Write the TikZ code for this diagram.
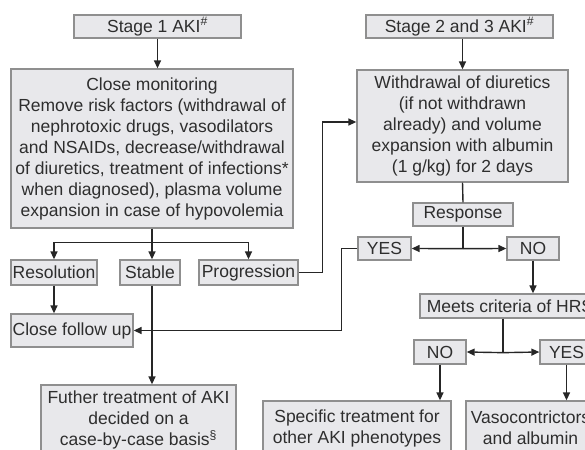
\documentclass[tikz,border=0pt]{standalone}
\usepackage{fontspec}
\setmainfont{Liberation Sans}
\usetikzlibrary{arrows.meta}
\definecolor{boxfill}{rgb}{0.91,0.91,0.92}
\definecolor{boxline}{rgb}{0.56,0.56,0.56}
\definecolor{textgray}{rgb}{0.18,0.18,0.18}

\tikzset{
  stepbox/.style={draw=boxline, fill=boxfill, line width=1.3pt, inner sep=0pt,
    align=center, text=textgray, font=\fontsize{17.5}{21}\selectfont},
  link/.style={line width=1.4pt, draw=black!85},
}

\begin{document}
\begin{tikzpicture}[x=1pt, y=-1pt, >={Triangle[length=8pt,width=7pt]}]
\useasboundingbox (0,0) rectangle (585,449);
\clip (0,0) rectangle (585,449);

\node[stepbox, minimum width=167pt, minimum height=23pt] (stageone) at (157.5,26.5) {Stage 1 AKI\textsuperscript{\#}};
\node[stepbox, minimum width=282pt, minimum height=159pt] (monitor) at (152,148.5)
  {Close monitoring\\Remove risk factors (withdrawal of\\nephrotoxic drugs, vasodilators\\and NSAIDs, decrease/withdrawal\\of diuretics, treatment of infections*\\when diagnosed), plasma volume\\expansion in case of hypovolemia};
\node[stepbox, minimum width=86pt, minimum height=25pt] (resolution) at (54,272.5) {Resolution};
\node[stepbox, minimum width=60pt, minimum height=25pt] (stable) at (150,272.5) {Stable};
\node[stepbox, minimum width=99pt, minimum height=25pt] (progression) at (248.5,272.5) {Progression};
\node[stepbox, minimum width=122pt, minimum height=33pt] (followup) at (72,330.5) {Close follow up};
\node[stepbox, minimum width=195pt, minimum height=70pt] (further) at (138.5,420)
  {Futher treatment of AKI\\decided on a\\case-by-case basis\textsuperscript{§}};

\node[stepbox, minimum width=187pt, minimum height=23pt] (stagetwo) at (459.5,26.5) {Stage 2 and 3 AKI\textsuperscript{\#}};
\node[stepbox, minimum width=211pt, minimum height=112pt] (withdrawal) at (462.5,126)
  {Withdrawal of diuretics\\(if not withdrawn\\already) and volume\\expansion with albumin\\(1 g/kg) for 2 days};
\node[stepbox, minimum width=100pt, minimum height=23pt] (response) at (463,214.5) {Response};
\node[stepbox, minimum width=53pt, minimum height=23pt] (yesone) at (384.5,248.5) {YES};
\node[stepbox, minimum width=52pt, minimum height=23pt] (noone) at (533,248.5) {NO};
\node[stepbox, minimum width=180pt, minimum height=24pt] (meets) at (510,306) {Meets criteria of HRS};
\node[stepbox, minimum width=52pt, minimum height=24pt] (notwo) at (440,352) {NO};
\node[stepbox, minimum width=53pt, minimum height=24pt] (yestwo) at (566.5,352) {YES};
\node[stepbox, minimum width=188pt, minimum height=54pt] (specific) at (357,428)
  {Specific treatment for\\other AKI phenotypes};
\node[stepbox, minimum width=129pt, minimum height=54pt] (vaso) at (530.5,428)
  {Vasocontrictors\\and albumin};

\draw[link,->] (stageone.south) -- (stageone.south |- monitor.north);
\draw[link] (monitor.south) -- ++(0,14) coordinate (split);
\draw[link,->] (split) -- (monitor.south |- stable.north);
\draw[link,->] (split) -| (resolution.north);
\draw[link,->] (split) -| (progression.north);
\draw[link,->] (resolution.south) -- (resolution.south |- followup.north);
\draw[link,->] (monitor.south |- stable.south) -- (monitor.south |- further.north);
\draw[link,->] (progression.east) -- ++(24,0) |- ([yshift=4pt]withdrawal.west);

\draw[link,->] (withdrawal.north |- stagetwo.south) -- (withdrawal.north);
\draw[link] (withdrawal.south) -- (response.north);
\draw[link] (response.south) -- ++(0,22) coordinate (respsplit);
\draw[link,->] (respsplit) -- (yesone.east);
\draw[link,->] (respsplit) -- (noone.west);
\draw[link,->] (yesone.west) -- ++(-16,0) |- (followup.east);
\draw[link,->] (noone.south) -- (noone.south |- meets.north);
\draw[link] ([xshift=-7pt]meets.south) -- ++(0,34) coordinate (meetssplit);
\draw[link,->] (meetssplit) -- (notwo.east);
\draw[link,->] (meetssplit) -- (yestwo.west);
\draw[link,->] (notwo.south) -- (notwo.south |- specific.north);
\draw[link,->] (yestwo.south) -- (yestwo.south |- vaso.north);
\end{tikzpicture}
\end{document}
